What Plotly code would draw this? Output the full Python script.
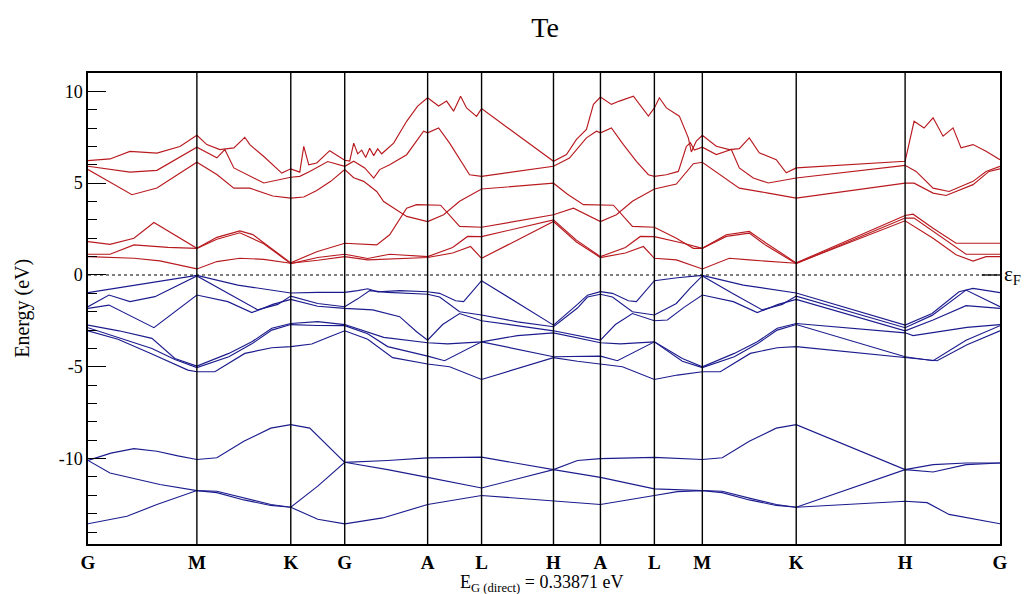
import plotly.graph_objects as go

# ---------------- data ----------------
title_text = "Te"
kpt_labels = ["G", "M", "K", "G", "A", "L", "H", "A", "L", "M", "K", "H", "G"]
kpt_pos = [0, 109, 203, 257, 340, 394, 466, 513, 567, 615, 709, 818, 913]
energy_ticks = [-10, -5, 0, 5, 10]
energy_tick_text = ["-10", "-5", "0", "5", "10"]
gap_value = "0.33871 eV"

# valence s-like bands (k-path distance, energy eV)
s0 = [(0, -13.55), (39, -13.14), (69, -12.5), (109, -11.74), (129, -11.85), (156, -12.25), (183, -12.55),
      (203, -12.65), (230, -13.3), (257, -13.55), (295, -13.23), (340, -12.5), (394, -12.01), (466, -12.32),
      (513, -12.5), (567, -12.01), (590, -11.8), (615, -11.74), (635, -11.85), (662, -12.25), (689, -12.55),
      (709, -12.65), (789, -12.41), (818, -12.32), (840, -12.4), (862, -13.04), (913, -13.55)]
s1 = [(0, -10.1), (22, -10.78), (72, -11.41), (109, -11.74), (129, -11.78), (156, -12.15), (183, -12.5),
      (203, -12.65), (230, -11.5), (257, -10.2), (300, -10.6), (340, -11.02), (394, -11.6), (466, -10.6),
      (513, -11.02), (567, -11.65), (615, -11.74), (635, -11.78), (662, -12.15), (689, -12.5), (709, -12.65),
      (818, -10.6), (846, -10.73), (879, -10.33), (913, -10.24)]
s2 = [(0, -10.1), (23, -9.7), (46, -9.46), (69, -9.6), (90, -9.85), (109, -10.05), (129, -9.95), (156, -9.06),
      (183, -8.34), (203, -8.15), (222, -8.34), (240, -9.3), (257, -10.2), (300, -10.1), (340, -9.96),
      (394, -9.92), (466, -10.6), (490, -10.1), (513, -10.0), (567, -9.93), (615, -10.05), (635, -9.95),
      (662, -9.06), (689, -8.34), (709, -8.15), (818, -10.6), (846, -10.33), (879, -10.24), (913, -10.24)]

# valence p-like bands
v1 = [(0, -0.96), (55, -0.5), (109, -0.02), (150, -0.55), (203, -0.98), (230, -0.95), (257, -0.95),
      (270, -0.85), (280, -0.75), (290, -0.92), (312, -0.85), (340, -0.91), (352, -1.0), (368, -1.4),
      (376, -1.45), (394, -0.31), (466, -2.73), (490, -1.6), (500, -1.1), (513, -0.91), (525, -1.0),
      (541, -1.4), (549, -1.45), (567, -0.31), (590, -0.15), (615, -0.02), (656, -0.55), (709, -0.98),
      (818, -2.73), (845, -2.1), (872, -0.91), (886, -0.73), (913, -0.96)]
v2 = [(0, -1.73), (21, -1.09), (42, -1.45), (67, -1.18), (109, -0.05), (140, -1.0), (170, -1.9), (190, -1.6),
      (203, -1.15), (230, -1.55), (257, -1.73), (270, -1.3), (282, -0.85), (300, -0.95), (340, -1.05),
      (352, -1.2), (372, -2.0), (394, -2.18), (430, -2.55), (466, -2.82), (490, -1.8), (500, -1.2),
      (513, -1.05), (525, -1.2), (545, -2.0), (567, -2.18), (589, -1.55), (603, -0.7), (615, -0.05),
      (645, -1.0), (675, -1.9), (695, -1.6), (709, -1.15), (818, -2.87), (845, -2.2), (879, -0.82),
      (899, -1.36), (913, -1.73)]
v3 = [(0, -1.82), (21, -1.64), (66, -2.87), (109, -1.09), (140, -1.45), (164, -2.05), (185, -1.6),
      (203, -1.33), (230, -1.7), (257, -1.82), (285, -1.9), (300, -2.1), (312, -2.27), (329, -3.09),
      (340, -3.55), (355, -2.7), (372, -2.1), (394, -2.49), (466, -3.04), (513, -3.55), (528, -2.7),
      (545, -2.1), (567, -2.49), (580, -2.45), (597, -1.75), (615, -1.09), (646, -1.45), (670, -2.05),
      (691, -1.6), (709, -1.33), (818, -3.04), (846, -2.45), (879, -1.67), (913, -1.82)]
v4 = [(0, -2.73), (31, -3.04), (64, -3.45), (87, -4.55), (109, -4.96), (141, -4.27), (164, -3.64),
      (184, -2.9), (203, -2.64), (230, -2.54), (257, -2.7), (296, -3.4), (340, -3.69), (360, -3.75),
      (394, -3.64), (430, -3.3), (466, -3.15), (513, -3.69), (533, -3.75), (567, -3.64), (595, -4.55),
      (615, -5.0), (647, -4.27), (670, -3.64), (690, -2.9), (709, -2.64), (818, -3.15), (826, -3.3),
      (880, -2.85), (913, -2.7)]
v5 = [(0, -2.87), (31, -3.4), (64, -4.0), (87, -4.6), (109, -5.04), (141, -4.45), (164, -3.75), (184, -3.0),
      (203, -2.7), (230, -2.75), (257, -2.76), (280, -3.2), (300, -3.9), (340, -4.42), (357, -4.67),
      (394, -3.64), (466, -4.45), (513, -4.42), (530, -4.67), (567, -3.64), (595, -4.7), (615, -5.04),
      (647, -4.45), (670, -3.75), (690, -3.0), (709, -2.7), (818, -4.45), (846, -4.67), (879, -3.55),
      (913, -2.76)]
v6 = [(0, -3.04), (30, -3.5), (64, -4.3), (100, -5.18), (109, -5.27), (127, -5.27), (157, -4.27),
      (184, -3.96), (203, -3.9), (224, -3.76), (240, -3.4), (257, -3.04), (280, -3.5), (305, -4.5),
      (340, -4.85), (362, -5.0), (394, -5.69), (466, -4.5), (490, -4.7), (513, -4.85), (535, -5.0),
      (567, -5.69), (590, -5.45), (615, -5.27), (633, -5.27), (663, -4.27), (690, -3.96), (709, -3.9),
      (818, -4.5), (850, -4.67), (880, -3.8), (913, -3.04)]

# conduction bands
c1 = [(0, 1.0), (46, 0.91), (72, 0.77), (109, 0.33), (129, 0.73), (152, 0.91), (176, 0.85), (203, 0.64),
      (230, 0.8), (257, 1.0), (280, 0.82), (340, 0.95), (365, 1.2), (383, 1.55), (394, 0.91), (466, 2.91),
      (489, 1.8), (513, 0.95), (538, 1.2), (556, 1.55), (567, 0.91), (589, 0.82), (615, 0.33), (642, 0.91),
      (662, 0.82), (709, 0.64), (818, 2.95), (846, 2.0), (869, 1.1), (886, 0.76), (899, 1.0), (913, 1.0)]
c2 = [(0, 1.13), (22, 1.13), (46, 1.64), (80, 1.5), (109, 1.45), (129, 1.95), (152, 2.3), (176, 1.7),
      (203, 0.62), (230, 0.95), (257, 1.13), (280, 0.9), (302, 1.13), (340, 1.0), (365, 1.5), (380, 2.1),
      (394, 2.09), (466, 3.0), (489, 1.9), (513, 1.0), (538, 1.5), (553, 2.1), (567, 2.09), (596, 1.73),
      (615, 1.45), (639, 2.1), (662, 2.28), (679, 1.6), (709, 0.62), (818, 3.1), (827, 3.1), (846, 2.37),
      (879, 1.13), (913, 1.13)]
c3 = [(0, 1.82), (22, 1.67), (46, 2.0), (66, 2.86), (109, 1.45), (129, 2.05), (152, 2.4), (165, 2.2),
      (203, 0.66), (229, 1.27), (257, 1.73), (289, 1.64), (302, 2.19), (319, 3.64), (329, 3.83), (340, 3.83),
      (353, 3.8), (372, 2.65), (394, 2.6), (466, 3.28), (486, 3.64), (513, 2.91), (529, 3.28), (545, 4.01),
      (567, 4.68), (589, 4.95), (606, 6.06), (615, 6.14), (629, 5.6), (652, 4.73), (681, 4.46), (709, 4.19),
      (818, 5.0), (827, 5.0), (846, 4.46), (859, 4.33), (886, 4.92), (902, 5.64), (913, 5.78)]
c4 = [(0, 5.74), (44, 4.37), (69, 4.74), (109, 6.14), (129, 5.47), (146, 4.73), (162, 4.73), (185, 4.3),
      (203, 4.19), (216, 4.25), (229, 4.6), (243, 5.1), (257, 5.74), (266, 5.3), (276, 5.1), (289, 4.55),
      (296, 4.0), (319, 3.19), (340, 2.91), (356, 3.28), (372, 4.01), (394, 4.68), (466, 5.0), (480, 4.4),
      (496, 3.83), (513, 3.83), (526, 3.8), (545, 2.65), (567, 2.6), (589, 2.0), (606, 1.45), (615, 1.45),
      (639, 2.19), (662, 2.37), (679, 1.73), (709, 0.66), (818, 3.24), (826, 3.31), (846, 2.55),
      (869, 1.73), (913, 1.73)]
c5 = [(0, 5.92), (42, 5.6), (69, 5.7), (109, 6.96), (129, 6.38), (137, 6.83), (146, 5.83), (162, 5.37),
      (176, 5.01), (203, 5.32), (212, 5.37), (222, 5.64), (240, 6.18), (257, 5.92), (266, 6.2), (277, 5.83),
      (286, 5.28), (292, 5.74), (302, 6.0), (319, 6.55), (336, 7.83), (340, 7.74), (351, 8.01), (362, 7.18),
      (382, 5.46), (394, 5.37), (466, 5.92), (482, 6.37), (499, 7.47), (509, 7.83), (513, 7.74), (524, 8.01),
      (536, 7.1), (549, 6.19), (561, 5.46), (567, 5.37), (579, 5.46), (591, 5.64), (599, 7.0), (603, 7.2),
      (607, 6.8), (615, 6.96), (629, 6.56), (644, 6.83), (652, 5.83), (666, 5.28), (681, 5.01), (709, 5.28),
      (818, 5.97), (829, 5.64), (846, 4.73), (862, 4.55), (886, 5.1), (899, 5.64), (913, 5.92)]
c6 = [(0, 6.23), (22, 6.32), (42, 6.73), (69, 6.64), (92, 7.0), (109, 7.61), (119, 7.1), (132, 6.83),
      (146, 6.92), (157, 7.5), (162, 7.1), (176, 6.45), (194, 5.55), (203, 5.78), (212, 5.6), (216, 7.0),
      (221, 6.0), (229, 6.1), (242, 6.77), (250, 6.5), (257, 6.25), (262, 6.2), (266, 7.18), (270, 6.6),
      (274, 6.8), (278, 6.4), (282, 6.9), (286, 6.5), (290, 6.87), (294, 6.6), (306, 7.18), (319, 8.37),
      (330, 9.2), (340, 9.65), (351, 9.2), (359, 9.47), (366, 8.92), (373, 9.74), (379, 9.1), (389, 8.64),
      (394, 9.06), (466, 6.19), (479, 6.56), (489, 7.38), (499, 7.93), (506, 9.29), (513, 9.69), (524, 9.29),
      (532, 9.47), (546, 9.74), (561, 8.65), (567, 9.1), (572, 9.65), (579, 9.1), (592, 8.65), (601, 7.47),
      (604, 6.7), (609, 7.29), (615, 7.61), (629, 7.01), (642, 6.83), (652, 6.88), (662, 7.47), (672, 6.65),
      (689, 6.28), (699, 5.56), (709, 5.83), (818, 6.19), (827, 8.37), (837, 8.0), (846, 8.56), (856, 7.56),
      (866, 8.01), (874, 6.92), (886, 7.1), (899, 6.74), (913, 6.28)]

valence_bands = [s0, s1, s2, v1, v2, v3, v4, v5, v6]
conduction_bands = [c1, c2, c3, c4, c5, c6]

BLUE = "#1c1c8e"
RED = "#b81a1f"
SERIF = "Liberation Serif"

fig = go.Figure()
for band in valence_bands:
    fig.add_trace(go.Scatter(x=[p[0] for p in band], y=[p[1] for p in band], mode="lines",
                             line=dict(color=BLUE, width=1.15), hoverinfo="skip"))
for band in conduction_bands:
    fig.add_trace(go.Scatter(x=[p[0] for p in band], y=[p[1] for p in band], mode="lines",
                             line=dict(color=RED, width=1.15), hoverinfo="skip"))

shapes = []
for xv in kpt_pos[1:-1]:
    shapes.append(dict(type="line", xref="x", yref="paper", x0=xv, x1=xv, y0=0, y1=1,
                       line=dict(color="black", width=1.4), layer="above"))
# Fermi level
shapes.append(dict(type="line", xref="paper", yref="y", x0=0, x1=1, y0=0, y1=0,
                   line=dict(color="black", width=1.2, dash="dot")))
shapes.append(dict(type="line", xref="paper", yref="y", x0=0.98, x1=1, y0=0, y1=0,
                   line=dict(color="black", width=1.3)))

# the page body adds an 8px margin, so the figure is 8px smaller than the window on each side
fig.update_layout(
    width=1023, height=586, autosize=False,
    margin=dict(l=80, r=31, t=65, b=50),
    plot_bgcolor="white", paper_bgcolor="white",
    showlegend=False,
    font=dict(family=SERIF, color="black"),
    title=dict(text=title_text, x=0.525, xanchor="center", y=0.968, yanchor="middle", yref="container",
               font=dict(family=SERIF, size=28, color="black")),
    shapes=shapes,
    xaxis=dict(range=[kpt_pos[0], kpt_pos[-1]], showgrid=False, zeroline=False,
               showline=True, mirror=True, linecolor="black", linewidth=1.5,
               tickmode="array", tickvals=kpt_pos, ticktext=["<b>%s</b>" % t for t in kpt_labels],
               ticks="", tickfont=dict(family=SERIF, size=19, color="black")),
    yaxis=dict(range=[-14.65, 11.0], showgrid=False, zeroline=False,
               showline=True, mirror=True, linecolor="black", linewidth=1.5,
               tickmode="array", tickvals=energy_ticks, ticktext=energy_tick_text,
               ticks="inside", ticklen=18, tickwidth=1.3, tickcolor="black",
               minor=dict(tickmode="linear", tick0=0, dtick=1, ticks="inside", ticklen=9,
                          tickwidth=1, tickcolor="black"),
               tickfont=dict(family=SERIF, size=18, color="black")),
    annotations=[
        dict(text="Energy (eV)", xref="paper", yref="paper", x=-0.072, y=0.50, textangle=-90,
             xanchor="center", yanchor="middle", showarrow=False,
             font=dict(family=SERIF, size=20, color="black")),
        dict(text="E<sub>G (direct)</sub> = " + gap_value, xref="paper", yref="paper", x=0.497, y=-0.056,
             xanchor="center", yanchor="top", showarrow=False,
             font=dict(family=SERIF, size=18, color="black")),
        dict(text="ε<sub>F</sub>", xref="paper", yref="y", x=1.002, y=0, xanchor="left", yanchor="middle",
             showarrow=False, font=dict(family=SERIF, size=21, color="black")),
    ],
)

fig.write_html("out.html")
